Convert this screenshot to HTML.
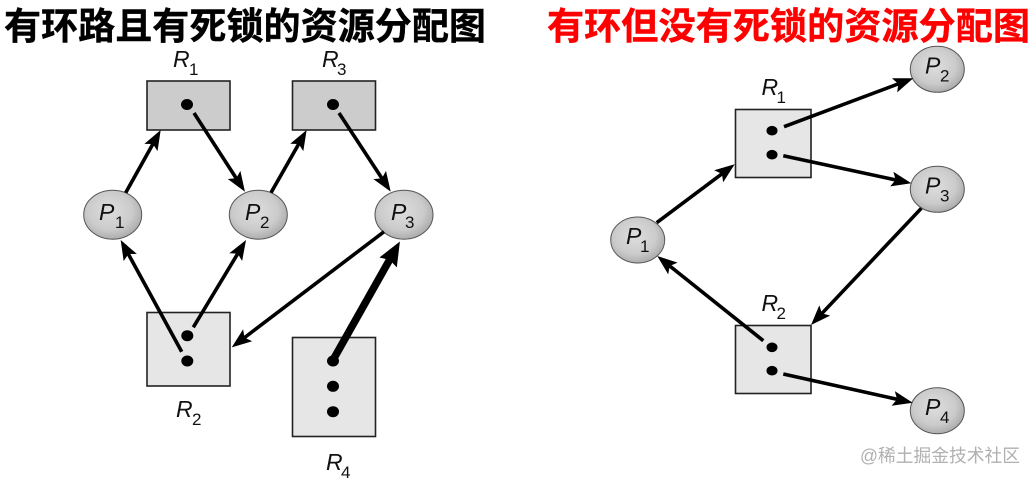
<!DOCTYPE html>
<html><head><meta charset="utf-8">
<style>
html,body{margin:0;padding:0;background:#fff;width:1036px;height:482px;overflow:hidden}
svg{display:block}
.t{font-family:"Liberation Sans","Noto Sans CJK SC",sans-serif;font-weight:700;font-size:37px;stroke-width:.4px}
.l{font-family:"Liberation Sans",sans-serif;font-style:italic;font-size:23px;fill:#111}
.s{font-family:"Liberation Sans",sans-serif;font-size:17px;fill:#111}
.a{stroke:#000;stroke-width:3.6;fill:none;marker-end:url(#h)}
.r1{fill:#cccccc;stroke:#222;stroke-width:1.6}
.r2{fill:#e6e6e6;stroke:#222;stroke-width:1.6}
.e{fill:url(#g);stroke:#555;stroke-width:1}
</style></head><body>
<svg width="1036" height="482" viewBox="0 0 1036 482" xmlns="http://www.w3.org/2000/svg">
<defs>
<radialGradient id="g" cx="45%" cy="42%" r="65%">
<stop offset="0" stop-color="#dedede"/><stop offset=".6" stop-color="#cbcbcb"/><stop offset="1" stop-color="#a2a2a2"/>
</radialGradient>
<marker id="h" markerUnits="userSpaceOnUse" markerWidth="22" markerHeight="18" refX="12" refY="9" orient="auto">
<path d="M0 1.500 L20 9 L0 16.500 L4 9 Z" fill="#000"/>
</marker>
<marker id="H" markerUnits="userSpaceOnUse" markerWidth="26" markerHeight="24" refX="12" refY="12" orient="auto">
<path d="M0 2 L24 12 L0 22 L3 12 Z" fill="#000"/>
</marker>
</defs>

<text class="t" x="4" y="39" fill="#000" stroke="#000" textLength="482" lengthAdjust="spacingAndGlyphs">有环路且有死锁的资源分配图</text>
<text class="t" x="547" y="39" fill="#f00" stroke="#f00" textLength="483" lengthAdjust="spacingAndGlyphs">有环但没有死锁的资源分配图</text>

<!-- left -->
<rect class="r1" x="147" y="81" width="83" height="49"/>
<rect class="r1" x="292.500" y="81" width="83" height="49"/>
<rect class="r2" x="147" y="312.500" width="83" height="73.500"/>
<rect class="r2" x="292.500" y="337.500" width="83" height="99"/>
<ellipse cx="187" cy="104.500" rx="6" ry="5.500"/><ellipse cx="333" cy="104.500" rx="6" ry="5.500"/>
<ellipse cx="187.300" cy="335.700" rx="6" ry="5.500"/><ellipse cx="187.300" cy="361" rx="6" ry="5.500"/>
<ellipse cx="333" cy="361" rx="6" ry="5.500"/><ellipse cx="333" cy="386.300" rx="6" ry="5.500"/><ellipse cx="333" cy="411.700" rx="6" ry="5.500"/>
<ellipse class="e" cx="112.700" cy="214.700" rx="29" ry="24.500"/>
<ellipse class="e" cx="258.300" cy="214.700" rx="29" ry="24.500"/>
<ellipse class="e" cx="404" cy="214.700" rx="29" ry="24.500"/>

<line class="a" x1="125.700" y1="192.700" x2="156.800" y2="137"/>
<line class="a" x1="194" y1="113" x2="240.600" y2="185"/>
<line class="a" x1="271" y1="192.700" x2="302.700" y2="137"/>
<line class="a" x1="339" y1="113" x2="386.300" y2="185"/>
<line class="a" x1="181.700" y1="351.700" x2="124.500" y2="247"/>
<line class="a" x1="193.300" y1="327.300" x2="241.900" y2="246.800"/>
<line class="a" x1="384" y1="231.700" x2="238.100" y2="342.500"/>
<line x1="333" y1="360" x2="394" y2="252" stroke="#000" stroke-width="7.500" marker-end="url(#H)"/>

<text class="l" x="173" y="67">R</text><text class="s" x="189" y="75">1</text>
<text class="l" x="322" y="67">R</text><text class="s" x="337" y="75">3</text>
<text class="l" x="176" y="417">R</text><text class="s" x="192" y="425">2</text>
<text class="l" x="326" y="470">R</text><text class="s" x="341" y="478">4</text>
<text class="l" x="99" y="220">P</text><text class="s" x="115" y="228">1</text>
<text class="l" x="245" y="220">P</text><text class="s" x="260" y="228">2</text>
<text class="l" x="391" y="220">P</text><text class="s" x="405" y="228">3</text>

<!-- right -->
<rect class="r2" x="735.500" y="109.500" width="75.500" height="68"/>
<rect class="r2" x="735.500" y="325.500" width="75.500" height="68"/>
<ellipse cx="772" cy="130.700" rx="5.500" ry="4.800"/><ellipse cx="772" cy="154.700" rx="5.500" ry="4.800"/>
<ellipse cx="772" cy="347.300" rx="5.500" ry="4.800"/><ellipse cx="772" cy="370.700" rx="5.500" ry="4.800"/>
<ellipse class="e" cx="637.700" cy="240" rx="27" ry="23"/>
<ellipse class="e" cx="937.300" cy="69.300" rx="27" ry="23"/>
<ellipse class="e" cx="937.300" cy="189.300" rx="27" ry="23"/>
<ellipse class="e" cx="937.300" cy="410.700" rx="27" ry="23"/>

<line class="a" x1="656.700" y1="222.700" x2="728.300" y2="169.100"/>
<line class="a" x1="784" y1="126.700" x2="905.800" y2="81.100"/>
<line class="a" x1="783.300" y1="155.700" x2="903.500" y2="181.600"/>
<line class="a" x1="921.300" y1="208.300" x2="816.500" y2="319.200"/>
<line class="a" x1="763.300" y1="340.700" x2="663.500" y2="261"/>
<line class="a" x1="783.300" y1="374" x2="904.900" y2="401"/>

<text class="l" x="761.500" y="95">R</text><text class="s" x="776.500" y="103">1</text>
<text class="l" x="761.500" y="311">R</text><text class="s" x="776.500" y="319">2</text>
<text class="l" x="626" y="244">P</text><text class="s" x="640" y="252">1</text>
<text class="l" x="925" y="73.300">P</text><text class="s" x="940" y="81.500">2</text>
<text class="l" x="925" y="193.300">P</text><text class="s" x="940" y="201.500">3</text>
<text class="l" x="925" y="415">P</text><text class="s" x="940" y="423">4</text>

<text x="860" y="462" font-family="'Liberation Sans','Noto Sans CJK SC',sans-serif" font-size="18" fill="#b0b0b0" textLength="160" lengthAdjust="spacingAndGlyphs">@稀土掘金技术社区</text>
</svg>
</body></html>
